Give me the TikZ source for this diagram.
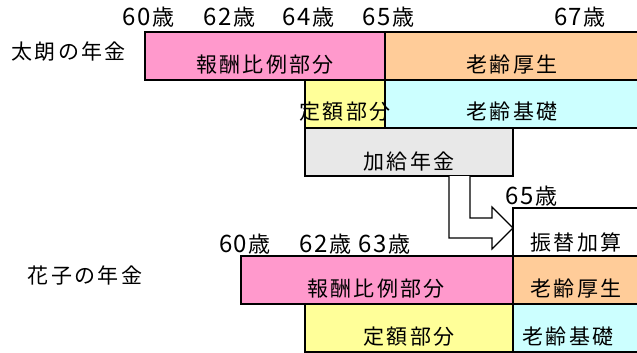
\documentclass[tikz,border=0pt]{standalone}
\usepackage{fontspec}
\newfontfamily\jp[LetterSpace=11]{Noto Sans CJK JP}
\newfontfamily\jpdig[LetterSpace=6]{Noto Sans CJK JP}
\usetikzlibrary{calc}
\definecolor{cpink}{HTML}{FF99CC}
\definecolor{corange}{HTML}{FFCC99}
\definecolor{cyellow}{HTML}{FFFF99}
\definecolor{ccyan}{HTML}{CCFFFF}
\definecolor{cgray}{HTML}{E8E8E8}
\newcommand{\agetxt}[1]{{\jpdig\fontsize{24}{24}\selectfont #1}\kern1.5pt{\fontsize{22}{22}\selectfont 歳}}
\tikzset{
  box/.style={draw=black, line width=1.2pt, anchor=north west, inner sep=0pt, outer sep=0pt},
  txt/.style={font=\jp\fontsize{21}{21}\selectfont, inner sep=0pt, anchor=center},
  hollow/.style={draw=black, line width=1.2pt, fill=white, line join=miter},
}
\begin{document}
\begin{tikzpicture}[x=1pt,y=-1pt]
\clip (0,0) rectangle (637,353);
\fill[white] (0,0) rectangle (637,353);
% Taro boxes
\node[box, fill=cpink, minimum width=240pt, minimum height=48pt] (tp) at (145,32) {};
\node[box, fill=corange, minimum width=260pt, minimum height=48pt] (to) at (385,32) {};
\node[box, fill=cyellow, minimum width=80pt, minimum height=48pt] (ty) at (305,80) {};
\node[box, fill=ccyan, minimum width=260pt, minimum height=48pt] (tc) at (385,80) {};
\node[box, fill=cgray, minimum width=208pt, minimum height=48pt] (tg) at (305,128) {};
% Hanako boxes
\node[box, fill=white, minimum width=132pt, minimum height=48pt] (hw) at (513,208) {};
\node[box, fill=cpink, minimum width=272pt, minimum height=48pt] (hp) at (241,256) {};
\node[box, fill=corange, minimum width=132pt, minimum height=48pt] (ho) at (513,256) {};
\node[box, fill=cyellow, minimum width=208pt, minimum height=48pt] (hy) at (305,304) {};
\node[box, fill=ccyan, minimum width=132pt, minimum height=48pt] (hc) at (513,304) {};
% box texts
\node[txt] (tpt) at (265,65) {報酬比例部分};
\node[txt] (tot) at (512,65) {老齢厚生};
\node[txt] (tyt) at (345,112) {定額部分};
\node[txt] (tct) at (512,112) {老齢基礎};
\node[txt] (tgt) at (409,161) {加給年金};
\node[txt] (hwt) at (576,242) {振替加算};
\node[txt] (hpt) at (376,289) {報酬比例部分};
\node[txt] (hot) at (576,289) {老齢厚生};
\node[txt] (hyt) at (409,337) {定額部分};
\node[txt] (hct) at (568,337) {老齢基礎};
% age labels
\node[txt] (a60) at (148.5,17) {\agetxt{60}};
\node[txt] (a62) at (229.5,17) {\agetxt{62}};
\node[txt] (a64) at (308.5,17) {\agetxt{64}};
\node[txt] (a65) at (388.5,17) {\agetxt{65}};
\node[txt] (a67) at (580,17) {\agetxt{67}};
\node[txt] (b60) at (245,244) {\agetxt{60}};
\node[txt] (b62) at (325.5,244) {\agetxt{62}};
\node[txt] (b63) at (384.5,244) {\agetxt{63}};
\node[txt] (b65) at (531.5,196) {\agetxt{65}};
\node[txt] (taro) at (68.5,52) {太朗の年金};
\node[txt] (hana) at (85,276) {花子の年金};
% hollow bent arrow
\coordinate (s1) at ($(tg.south west)+(144,0)$);
\coordinate (s2) at ($(tg.south west)+(165,0)$);
\coordinate (tip) at ($(hw.north west)+(0,20)$);
\draw[hollow] (s1) -- (s1 |- 0,238) -- (492,238) -- (492,249) -- (tip) -- (492,207) -- (492,218) -- (s2 |- 0,218) -- (s2);
\end{tikzpicture}
\end{document}
